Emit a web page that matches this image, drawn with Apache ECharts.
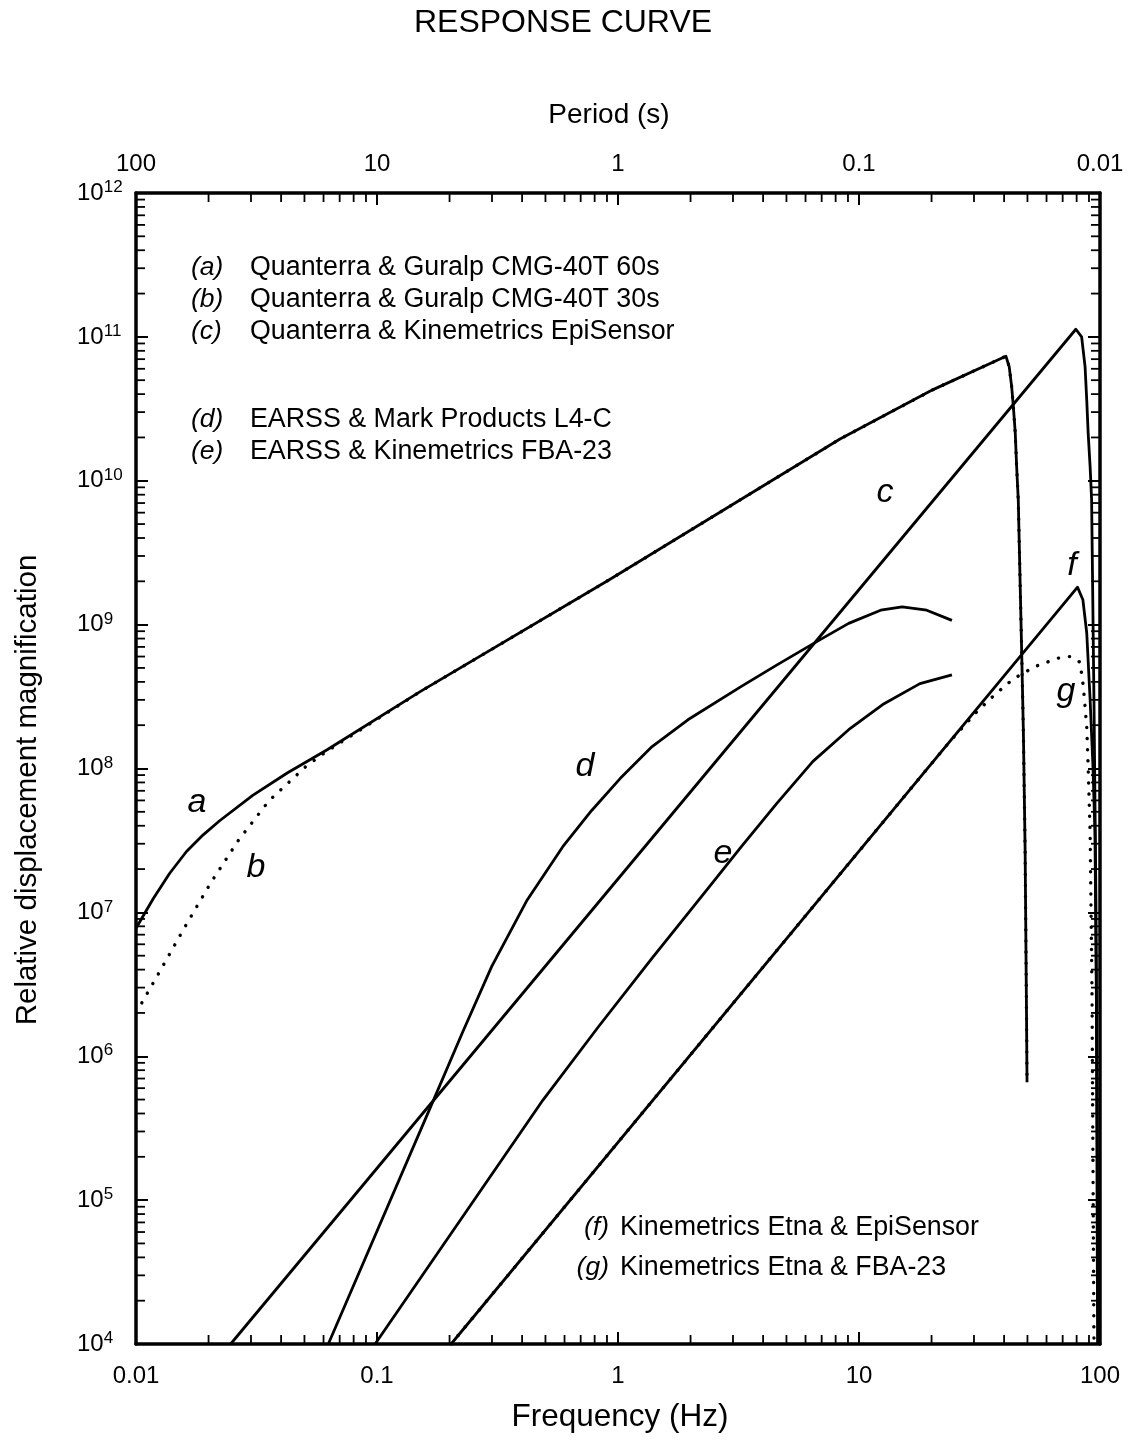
<!DOCTYPE html>
<html>
<head>
<meta charset="utf-8">
<script src="https://cdn.jsdelivr.net/npm/echarts@6/dist/echarts.min.js"></script>
<style>
html,body{margin:0;padding:0;background:#fff;}
#chart{width:1129px;height:1443px;}
</style>
</head>
<body>
<div id="chart"></div>
<script>
// ---- data (frequency in Hz, relative displacement magnification) ----
const freqA = [0.01, 0.0118, 0.0138, 0.0162, 0.0190, 0.0223, 0.0305, 0.0424, 0.0621, 0.151, 0.920, 8.34, 20.3, 40.7, 42.0, 43.0, 43.7, 44.5, 45.1, 45.8, 47.3, 48.1, 48.9, 49.5, 49.8];
const magA  = [7.76e6, 1.25e7, 1.87e7, 2.65e7, 3.46e7, 4.35e7, 6.50e7, 9.30e7, 1.35e8, 3.42e8, 2.05e9, 1.95e10, 4.30e10, 7.33e10, 6.21e10, 4.51e10, 3.27e10, 2.15e10, 1.25e10, 7.36e9, 6.67e8, 1.77e8, 2.72e7, 2.47e6, 6.6e5];

const freqB = [0.01057, 0.01265, 0.01596, 0.0204, 0.0265, 0.0356, 0.0506, 0.0612, 0.151, 0.920, 8.34, 20.3, 40.7, 42.0, 43.0, 43.7, 44.5, 45.1, 45.8, 47.3, 48.1, 48.9, 49.5, 49.8];
const magB  = [2.35e6, 3.98e6, 7.93e6, 1.60e7, 3.14e7, 5.96e7, 1.03e8, 1.30e8, 3.42e8, 2.05e9, 1.95e10, 4.30e10, 7.33e10, 6.21e10, 4.51e10, 3.27e10, 2.15e10, 1.25e10, 7.36e9, 6.67e8, 1.77e8, 2.72e7, 2.47e6, 6.6e5];

const freqC = [0.0247, 79.4, 83.9, 86.7, 88.1, 89.3, 91.0, 92.3, 94.4, 96.2, 97.5, 98.6];
const magC  = [1e4, 1.13e11, 1.00e11, 6.21e10, 3.64e10, 2.15e10, 1.25e10, 7.36e9, 3.0e8, 1.22e7, 2.24e5, 1e4];

const freqD = [0.0628, 0.173, 0.227, 0.299, 0.420, 0.590, 0.776, 1.02, 1.385, 1.95, 3.25, 4.57, 6.65, 9.06, 12.3, 15.1, 19.1, 24.3];
const magD  = [1e4, 5.12e5, 1.48e6, 4.20e6, 1.22e7, 2.86e7, 5.09e7, 8.51e7, 1.42e8, 2.18e8, 3.72e8, 5.25e8, 7.59e8, 1.02e9, 1.26e9, 1.33e9, 1.26e9, 1.07e9];

const freqE = [0.0982, 0.489, 0.831, 1.385, 2.31, 3.25, 4.57, 6.44, 9.06, 12.7, 17.9, 24.3];
const magE  = [1e4, 4.98e5, 1.61e6, 4.81e6, 1.40e7, 2.86e7, 5.74e7, 1.12e8, 1.86e8, 2.82e8, 3.89e8, 4.47e8];

const freqF = [0.203, 80.7, 84.9, 88.1, 91.0, 93.5, 95.3, 96.6, 97.7];
const magF  = [1e4, 1.82e9, 1.49e9, 8.75e8, 3.0e8, 1.03e8, 3.57e7, 2.47e6, 1e4];

const freqG = [0.203, 17.9, 23.9, 30.8, 36.6, 43.7, 53.7, 67.1, 75.2, 82.6, 85.3, 88.1, 89.3, 91.0, 92.7, 94.4];
const magG  = [1e4, 8.65e7, 1.55e8, 2.48e8, 3.26e8, 4.20e8, 5.11e8, 5.85e8, 6.0e8, 5.48e8, 3.71e8, 1.95e8, 1.03e8, 3.55e7, 2.45e6, 1e4];

const curveLetters = ['a', 'b', 'c', 'd', 'e', 'f', 'g'];
const legendTop = [
  ['(a)', 'Quanterra & Guralp CMG-40T 60s'],
  ['(b)', 'Quanterra & Guralp CMG-40T 30s'],
  ['(c)', 'Quanterra & Kinemetrics EpiSensor'],
  ['(d)', 'EARSS & Mark Products L4-C'],
  ['(e)', 'EARSS & Kinemetrics FBA-23']
];
const legendBottom = [
  ['(f)', 'Kinemetrics Etna & EpiSensor'],
  ['(g)', 'Kinemetrics Etna & FBA-23']
];
const xMin = 0.01, xMax = 100, yMin = 1e4, yMax = 1e12;

// ---- helpers ----
const FONT = 'Liberation Sans, Arial, Helvetica, sans-serif';
function pairs(xs, ys) { return xs.map((x, i) => [x, ys[i]]); }
function fmt(v) { return String(+v.toPrecision(3)); }

const minorX = [];
for (let k = -2; k < 2; k++) for (let m = 2; m <= 9; m++) minorX.push(m * Math.pow(10, k));
const minorY = [];
for (let k = 4; k < 12; k++) for (let m = 2; m <= 9; m++) minorY.push(m * Math.pow(10, k));

const chart = echarts.init(document.getElementById('chart'), null, { renderer: 'canvas' });

const solid = { color: '#000', width: 2.8, join: 'round' };
const dotted = { color: '#000', width: 3.4, type: [0.1, 11], cap: 'round' };
function lineSeries(name, xs, ys, style, z) {
  return {
    name, type: 'line', data: pairs(xs, ys), showSymbol: false, symbol: 'none',
    lineStyle: style, smooth: false, z: z || 3, silent: true, clip: true
  };
}

const TL = 9;
const minorXSeries = {
  type: 'custom', silent: true, clip: false, z: 6,
  data: minorX.map(v => [v, 1e8]),
  renderItem: function (params, api) {
    const cs = params.coordSys;
    const x = api.coord([api.value(0), 1e8])[0];
    const st = { stroke: '#000', lineWidth: 1.8 };
    return { type: 'group', children: [
      { type: 'line', shape: { x1: x, y1: cs.y + cs.height, x2: x, y2: cs.y + cs.height - TL }, style: st },
      { type: 'line', shape: { x1: x, y1: cs.y, x2: x, y2: cs.y + TL }, style: st }
    ] };
  }
};
const minorYSeries = {
  type: 'custom', silent: true, clip: false, z: 6,
  data: minorY.map(v => [1, v]),
  renderItem: function (params, api) {
    const cs = params.coordSys;
    const y = api.coord([1, api.value(1)])[1];
    const st = { stroke: '#000', lineWidth: 1.8 };
    return { type: 'group', children: [
      { type: 'line', shape: { x1: cs.x, y1: y, x2: cs.x + TL, y2: y }, style: st },
      { type: 'line', shape: { x1: cs.x + cs.width, y1: y, x2: cs.x + cs.width - TL, y2: y }, style: st }
    ] };
  }
};

const axisCommon = {
  axisLine: { show: true, lineStyle: { color: '#000', width: 3.5 } },
  axisTick: { show: true, inside: true, length: 12, lineStyle: { color: '#000', width: 2 } },
  splitLine: { show: false },
  minorTick: { show: false },
  minorSplitLine: { show: false }
};

function txt(text, x, y, size, opts) {
  opts = opts || {};
  return {
    type: 'text', x: x, y: y, rotation: opts.rotation || 0, silent: true, z: 10,
    style: {
      text: text, fill: '#000',
      font: (opts.italic ? 'italic ' : '') + size + 'px ' + FONT,
      textAlign: opts.align || 'left', textVerticalAlign: 'middle',
      align: opts.align || 'left', verticalAlign: 'middle'
    }
  };
}

const graphics = [
  txt('RESPONSE CURVE', 563, 23, 32, { align: 'center' }),
  txt('Period (s)', 609, 115, 28, { align: 'center' }),
  txt('Frequency (Hz)', 620, 1417, 31.5, { align: 'center' }),
  txt('Relative displacement magnification', 28, 790, 29.5, { align: 'center', rotation: Math.PI / 2 })
];
const topRows = [268, 300, 332, 420, 452];
legendTop.forEach((r, i) => {
  graphics.push(txt(r[0], 191, topRows[i], 26.5, { italic: true }));
  graphics.push(txt(r[1], 250, topRows[i], 26.8));
});
const botRows = [1228, 1268];
legendBottom.forEach((r, i) => {
  graphics.push(txt(r[0], 609, botRows[i], 26.5, { italic: true, align: 'right' }));
  graphics.push(txt(r[1], 620, botRows[i], 26.8));
});
const letterPos = [[197, 803], [256, 868], [885, 493], [585, 767], [723, 854], [1072, 566], [1066, 692]];
curveLetters.forEach((c, i) => {
  graphics.push(txt(c, letterPos[i][0], letterPos[i][1], 34, { italic: true, align: 'center' }));
});

chart.setOption({
  animation: false,
  backgroundColor: '#fff',
  textStyle: { fontFamily: FONT, color: '#000' },
  grid: { left: 136, right: 29, top: 193, bottom: 99, containLabel: false },
  xAxis: [
    Object.assign({}, axisCommon, {
      type: 'log', logBase: 10, min: xMin, max: xMax, splitNumber: 4, position: 'bottom',
      axisLabel: { show: true, margin: 20, fontSize: 24, color: '#000', fontFamily: FONT, formatter: v => fmt(v) }
    }),
    Object.assign({}, axisCommon, {
      type: 'log', logBase: 10, min: xMin, max: xMax, splitNumber: 4, position: 'top',
      axisLabel: { show: true, margin: 17, fontSize: 24, color: '#000', fontFamily: FONT, formatter: v => fmt(1 / v) }
    })
  ],
  yAxis: [
    Object.assign({}, axisCommon, {
      type: 'log', logBase: 10, min: yMin, max: yMax, splitNumber: 8, position: 'left',
      axisLabel: {
        show: true, margin: 59, align: 'left', color: '#000', fontFamily: FONT,
        formatter: v => '{b|10}{s|' + Math.round(Math.log10(v)) + '}',
        rich: {
          b: { fontSize: 24, fontFamily: FONT, color: '#000', lineHeight: 28 },
          s: { fontSize: 17, fontFamily: FONT, color: '#000', lineHeight: 28, padding: [0, 0, 11, 0] }
        }
      }
    }),
    Object.assign({}, axisCommon, {
      type: 'log', logBase: 10, min: yMin, max: yMax, splitNumber: 8, position: 'right',
      axisLabel: { show: false }
    })
  ],
  series: [
    lineSeries('a', freqA, magA, solid, 4),
    lineSeries('b', freqB, magB, dotted, 3),
    lineSeries('c', freqC, magC, solid, 4),
    lineSeries('d', freqD, magD, solid, 4),
    lineSeries('e', freqE, magE, solid, 4),
    lineSeries('f', freqF, magF, solid, 4),
    lineSeries('g', freqG, magG, dotted, 3),
    minorXSeries,
    minorYSeries
  ],
  graphic: graphics
});
</script>
</body>
</html>
